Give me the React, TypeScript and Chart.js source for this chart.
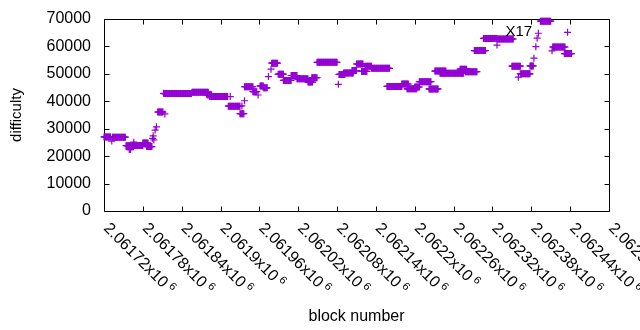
import React, { useEffect, useRef } from "react";
import { Chart, registerables } from "chart.js";

Chart.register(...registerables);

// Runs of consecutive blocks sharing (roughly) the same difficulty.
const runStart = [
  2061720, 2061732, 2061733, 2061754, 2061759, 2061761, 2061763, 2061766, 2061780, 2061786,
  2061795, 2061796, 2061797, 2061799, 2061801, 2061803, 2061812, 2061814, 2061813, 2061856,
  2061879, 2061883, 2061915, 2061912, 2061933, 2061930, 2061937, 2061937, 2061950, 2061958,
  2061961, 2061966, 2061974, 2061978, 2061979, 2061989, 2061997, 2062009, 2062018, 2062035,
  2062041, 2062049, 2062082, 2062083, 2062090, 2062103, 2062110, 2062118, 2062123, 2062133,
  2062157, 2062180, 2062188, 2062200, 2062207, 2062222, 2062231, 2062239, 2062270, 2062278,
  2062292, 2062306, 2062327, 2062328, 2062350, 2062360, 2062363, 2062378, 2062384, 2062387,
  2062389, 2062391, 2062394, 2062412, 2062413, 2062431, 2062436,
];
const runEnd = [
  2061730, 2061732, 2061753, 2061762, 2061759, 2061761, 2061780, 2061766, 2061788, 2061794,
  2061795, 2061796, 2061797, 2061799, 2061801, 2061811, 2061812, 2061814, 2061855, 2061881,
  2061886, 2061911, 2061915, 2061930, 2061933, 2061936, 2061937, 2061950, 2061956, 2061958,
  2061966, 2061972, 2061974, 2061978, 2061988, 2061997, 2062009, 2062018, 2062035, 2062042,
  2062049, 2062080, 2062082, 2062092, 2062105, 2062110, 2062120, 2062126, 2062133, 2062161,
  2062180, 2062190, 2062203, 2062207, 2062225, 2062236, 2062248, 2062275, 2062280, 2062296,
  2062309, 2062327, 2062327, 2062352, 2062363, 2062360, 2062378, 2062383, 2062384, 2062387,
  2062389, 2062391, 2062410, 2062412, 2062432, 2062442, 2062436,
];
const runDifficulty = [
  27000, 25500, 26900, 23800, 22400, 22400, 23900, 25100, 24800, 23500,
  26500, 27400, 25900, 29500, 30700, 36100, 42900, 35400, 42800, 43300,
  42400, 41750, 41700, 38200, 38300, 35500, 40200, 45300, 43500, 42300,
  45600, 44900, 49000, 51700, 53900, 49900, 47600, 49400, 48200, 47000,
  48600, 54200, 46200, 49800, 50300, 51200, 53600, 50900, 52800, 52000,
  45400, 46300, 44550, 45200, 47150, 44500, 51000, 50200, 51700, 50800,
  58500, 62900, 60500, 62700, 52800, 48800, 50000, 52900, 55700, 59900,
  63000, 64800, 69200, 58400, 59800, 57400, 65150,
];

const xMin = 2061720;
const xMax = 2062500;
const xTickValues = [
  2061720, 2061780, 2061840, 2061900, 2061960, 2062020, 2062080,
  2062140, 2062200, 2062260, 2062320, 2062380, 2062440, 2062500,
];
const xTickLabels = [
  "2.06172", "2.06178", "2.06184", "2.0619", "2.06196", "2.06202", "2.06208",
  "2.06214", "2.0622", "2.06226", "2.06232", "2.06238", "2.06244", "2.0625",
];
const yTickValues = [0, 10000, 20000, 30000, 40000, 50000, 60000, 70000];
const yTickLabels = ["0", "10000", "20000", "30000", "40000", "50000", "60000", "70000"];

const annotationText = "X17";
const annotationBlock = 2062340;
const annotationDifficulty = 65400;

const FONT = '"Liberation Sans", Arial, sans-serif';
const COLOR = "#9400d3";

function buildPoints() {
  const pts: { x: number; y: number }[] = [];
  for (let i = 0; i < runStart.length; i++) {
    for (let b = runStart[i]; b <= runEnd[i]; b++) {
      pts.push({ x: b, y: runDifficulty[i] });
    }
  }
  return pts;
}

const framePlugin = {
  id: "gnuframe",
  beforeDatasetsDraw(chart: any) {
    const { ctx, chartArea: a, scales } = chart;
    const x = scales.x;
    const y = scales.y;
    const L = Math.round(a.left) + 0.5;
    const R = Math.round(a.right) + 0.5;
    const T = Math.round(a.top) + 0.5;
    const B = Math.round(a.bottom) + 0.5;
    ctx.save();
    ctx.strokeStyle = "#000";
    ctx.lineWidth = 1;
    ctx.beginPath();
    ctx.rect(L, T, R - L, B - T);
    for (const v of yTickValues) {
      const py = Math.round(y.getPixelForValue(v)) + 0.5;
      ctx.moveTo(L, py);
      ctx.lineTo(L + 5, py);
      ctx.moveTo(R, py);
      ctx.lineTo(R - 5, py);
    }
    for (const v of xTickValues) {
      const px = Math.round(x.getPixelForValue(v)) + 0.5;
      ctx.moveTo(px, B);
      ctx.lineTo(px, B - 5);
      ctx.moveTo(px, T);
      ctx.lineTo(px, T + 5);
    }
    ctx.stroke();
    ctx.restore();
  },
  afterDraw(chart: any) {
    const { ctx, chartArea: a, scales } = chart;
    const x = scales.x;
    const y = scales.y;
    ctx.save();
    ctx.fillStyle = "#000";
    xTickValues.forEach((v, i) => {
      const px = x.getPixelForValue(v);
      ctx.save();
      ctx.translate(px + 2, a.bottom + 15);
      ctx.rotate(Math.PI / 4);
      ctx.textAlign = "left";
      ctx.textBaseline = "middle";
      ctx.font = `16px ${FONT}`;
      const main = xTickLabels[i] + "x10";
      ctx.fillText(main, 0, 0);
      const w = ctx.measureText(main).width;
      ctx.font = `11px ${FONT}`;
      ctx.fillText("6", w + 3.4, -4.2);
      ctx.restore();
    });
    ctx.font = `15px ${FONT}`;
    ctx.textAlign = "left";
    ctx.textBaseline = "middle";
    ctx.fillText(
      annotationText,
      x.getPixelForValue(annotationBlock),
      y.getPixelForValue(annotationDifficulty)
    );
    ctx.restore();
  },
};

function zeroPadding(s: any) {
  s.paddingTop = 0;
  s.paddingBottom = 0;
  s.paddingLeft = 0;
  s.paddingRight = 0;
}

export default function App() {
  const ref = useRef<HTMLCanvasElement | null>(null);
  useEffect(() => {
    if (!ref.current) return;
    const chart = new Chart(ref.current, {
      type: "scatter",
      data: {
        datasets: [
          {
            data: buildPoints(),
            pointStyle: "cross",
            pointRadius: 3.5,
            pointBorderWidth: 1.2,
            borderColor: COLOR,
            backgroundColor: COLOR,
            pointHoverRadius: 3.5,
            clip: 10,
          } as any,
        ],
      },
      options: {
        animation: false,
        responsive: false,
        devicePixelRatio: 1,
        events: [],
        layout: { padding: { left: 0, top: 19, right: 31, bottom: 0 } },
        plugins: { legend: { display: false }, tooltip: { enabled: false } },
        scales: {
          x: {
            type: "linear",
            min: xMin,
            max: xMax,
            grid: { display: false, drawTicks: false },
            border: { display: false },
            ticks: { display: false },
            title: {
              display: true,
              text: "block number",
              color: "#000",
              font: { family: FONT, size: 16 },
              padding: { top: 0, bottom: 4.2 },
            },
            afterFit: (s: any) => {
              s.height = 119;
              zeroPadding(s);
            },
          },
          y: {
            type: "linear",
            min: 0,
            max: 70000,
            grid: { display: false, drawTicks: false },
            border: { display: false },
            afterBuildTicks: (s: any) => {
              s.ticks = yTickValues.map((v) => ({ value: v }));
            },
            ticks: {
              color: "#000",
              padding: 13,
              font: { family: FONT, size: 16 },
              callback: (v: any) => {
                const i = yTickValues.indexOf(Number(v));
                return i >= 0 ? yTickLabels[i] : "";
              },
            },
            title: {
              display: true,
              text: "difficulty",
              color: "#000",
              font: { family: FONT, size: 15 },
              padding: { top: 7.5, bottom: 0 },
            },
            afterFit: (s: any) => {
              s.width = 104;
              zeroPadding(s);
            },
          },
        },
      },
      plugins: [framePlugin],
    });
    return () => chart.destroy();
  }, []);
  return (
    <div style={{ position: "absolute", left: 0, top: 0, width: 640, height: 330, background: "#fff" }}>
      <canvas ref={ref} width={640} height={330} />
    </div>
  );
}
